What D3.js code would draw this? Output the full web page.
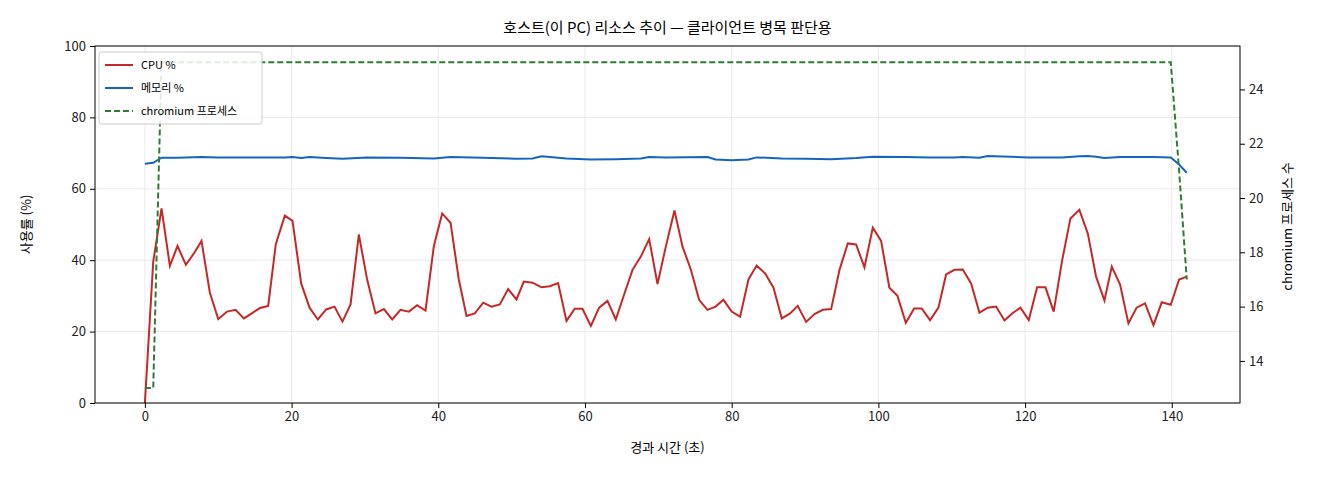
<!DOCTYPE html>
<html><head><meta charset="utf-8">
<script src="https://cdn.jsdelivr.net/npm/d3@7"></script>
<style>body{margin:0;background:#fff}text{font-family:"Noto Sans CJK KR","DejaVu Sans",sans-serif}</style>
</head><body><svg id="c" width="1320" height="480"></svg>
<script>
const cpuT = [0,1.14,2.27,3.41,4.45,5.59,6.68,7.72,8.86,10.0,11.22,12.36,13.5,14.63,15.68,16.81,17.85,19.08,20.13,21.31,22.45,23.58,24.72,25.85,26.94,28.04,29.17,30.31,31.44,32.58,33.72,34.85,35.99,37.12,38.26,39.4,40.53,41.67,42.8,43.85,44.98,46.12,47.26,48.39,49.53,50.66,51.66,52.85,54.07,55.2,56.34,57.48,58.6,59.66,60.8,61.93,63.07,64.2,65.34,66.48,67.61,68.75,69.89,71.02,72.2,73.3,74.43,75.56,76.7,77.8,78.88,80.0,81.15,82.29,83.4,84.56,85.7,86.83,87.97,89.0,90.15,91.29,92.42,93.56,94.7,95.83,96.96,98.1,99.24,100.37,101.5,102.6,103.74,104.87,105.9,107.05,108.19,109.23,110.37,111.5,112.64,113.78,114.9,116.05,117.19,118.32,119.37,120.5,121.64,122.78,123.9,125.04,126.18,127.4,128.55,129.68,130.82,131.82,132.95,134.09,135.2,136.36,137.5,138.63,139.86,141.0,142.04];
const cpu = [0,39.6,54.5,38.4,44.0,38.7,41.9,45.4,30.9,23.5,25.6,26.1,23.7,25.2,26.6,27.2,44.5,52.5,51.0,33.5,26.7,23.4,26.2,27.0,22.8,27.6,47.2,34.5,25.1,26.3,23.4,26.1,25.6,27.4,25.9,44.0,53.1,50.5,34.6,24.4,25.1,28.1,27.0,27.6,31.9,29.0,34.0,33.7,32.4,32.7,33.6,23.0,26.4,26.4,21.6,26.7,28.6,23.4,30.4,37.3,41.0,45.9,33.3,43.8,53.9,43.8,37.4,28.9,26.1,27.0,28.9,25.6,24.2,34.6,38.5,36.3,32.3,23.7,25.1,27.2,22.7,24.9,26.1,26.3,37.3,44.7,44.4,38.0,49.1,45.4,32.3,30.0,22.5,26.5,26.5,23.2,26.7,36.0,37.3,37.4,33.5,25.3,26.7,27.0,23.1,25.2,26.7,23.2,32.4,32.4,25.6,39.8,51.7,54.1,47.5,35.4,28.7,38.2,33.2,22.3,26.7,27.9,21.8,28.2,27.5,34.6,35.4];
const memT = [0,1.14,2.27,4.45,7.72,10.0,14.63,19.08,20.13,21.31,22.45,24.72,26.94,30.31,34.85,39.4,41.67,46.12,50.66,52.85,54.07,57.48,60.8,64.2,67.61,68.75,71.02,76.7,77.8,80.0,82.29,83.4,86.83,90.15,93.56,96.96,99.24,103.74,107.05,110.37,111.5,113.78,114.9,120.5,125.04,127.4,128.55,129.68,130.82,132.95,137.5,139.86,141.0,142.04];
const mem = [67.0,67.3,68.7,68.7,68.9,68.8,68.8,68.8,68.9,68.6,68.9,68.6,68.4,68.8,68.7,68.5,68.9,68.7,68.4,68.5,69.1,68.5,68.2,68.3,68.5,68.9,68.8,68.9,68.2,68.0,68.2,68.8,68.5,68.4,68.3,68.6,69.0,68.9,68.8,68.8,68.9,68.7,69.2,68.8,68.8,69.1,69.2,69.0,68.6,68.9,68.9,68.8,66.8,64.5];
const procT = [0,1.14,2.27,139.86,141.0,142.04];
const proc = [13,13,25,25,21,17];
const xTicks = [0,20,40,60,80,100,120,140];
const yTicks = [0,20,40,60,80,100];
const y2Ticks = [14,16,18,20,22,24];

const svg = d3.select("#c");
const L = 95, R = 1240, T = 46, B = 403;
const x = d3.scaleLinear().domain([-6.8, 149.3]).range([L, R]);
const y = d3.scaleLinear().domain([0, 100]).range([B, T]);
const y2 = d3.scaleLinear().domain([12.45, 25.6]).range([B, T]);

const grid = svg.append("g").attr("stroke", "#e4e4e4").attr("stroke-width", 0.8);
xTicks.forEach(t => grid.append("line").attr("x1", x(t)).attr("x2", x(t)).attr("y1", T).attr("y2", B));
yTicks.forEach(t => grid.append("line").attr("x1", L).attr("x2", R).attr("y1", y(t)).attr("y2", y(t)));

const line = (xs, ys, sc) => d3.line().x((d, i) => x(xs[i])).y(d => sc(d))(ys);
svg.append("path").attr("d", line(cpuT, cpu, y)).attr("fill", "none").attr("stroke", "#c62828").attr("stroke-width", 2);
svg.append("path").attr("d", line(memT, mem, y)).attr("fill", "none").attr("stroke", "#1565c0").attr("stroke-width", 2);
svg.append("path").attr("d", line(procT, proc, y2)).attr("fill", "none").attr("stroke", "#2e7d32").attr("stroke-width", 2).attr("stroke-dasharray", "6,3");

svg.append("rect").attr("x", L).attr("y", T).attr("width", R - L).attr("height", B - T).attr("fill", "none").attr("stroke", "#000").attr("stroke-width", 1);

const fmt = g => g.call(s => s.select(".domain").remove()).selectAll("text").attr("font-size", 13).attr("fill", "#222");
svg.append("g").attr("transform", `translate(0,${B})`).call(d3.axisBottom(x).tickValues(xTicks).tickSize(5).tickPadding(4)).call(fmt);
svg.append("g").attr("transform", `translate(${L},0)`).call(d3.axisLeft(y).tickValues(yTicks).tickSize(5).tickPadding(4)).call(fmt);
svg.append("g").attr("transform", `translate(${R},0)`).call(d3.axisRight(y2).tickValues(y2Ticks).tickSize(5).tickPadding(4)).call(fmt);

svg.append("text").attr("x", (L + R) / 2).attr("y", 33).attr("text-anchor", "middle").attr("font-size", 15).text("호스트(이 PC) 리소스 추이 — 클라이언트 병목 판단용");
svg.append("text").attr("x", (L + R) / 2).attr("y", 452).attr("text-anchor", "middle").attr("font-size", 13).text("경과 시간 (초)");
svg.append("text").attr("transform", `translate(31,${(T + B) / 2}) rotate(-90)`).attr("text-anchor", "middle").attr("font-size", 13).text("사용률 (%)");
svg.append("text").attr("transform", `translate(1292,${(T + B) / 2 + 2}) rotate(-90)`).attr("text-anchor", "middle").attr("font-size", 13).text("chromium 프로세스 수");

const lg = svg.append("g").attr("transform", "translate(99,52)");
lg.append("rect").attr("width", 163).attr("height", 72).attr("rx", 3).attr("fill", "#fff").attr("fill-opacity", 0.85).attr("stroke", "#ccc");
const items = [["CPU %", "#c62828", null], ["메모리 %", "#1565c0", null], ["chromium 프로세스", "#2e7d32", "6,3"]];
items.forEach((it, i) => {
  const yy = 13 + i * 23;
  lg.append("line").attr("x1", 6).attr("x2", 34).attr("y1", yy).attr("y2", yy).attr("stroke", it[1]).attr("stroke-width", 2).attr("stroke-dasharray", it[2]);
  lg.append("text").attr("x", 42).attr("y", yy + 4).attr("font-size", 11).text(it[0]);
});
</script></body></html>
